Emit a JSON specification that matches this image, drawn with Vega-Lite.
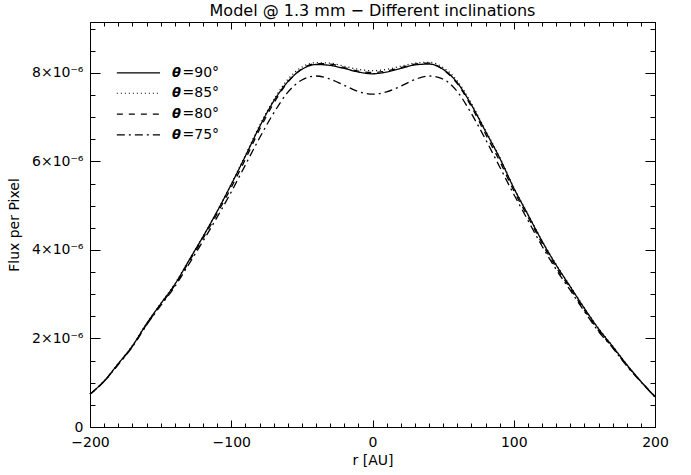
{
  "$schema": "https://vega.github.io/schema/vega-lite/v6.json",
  "width": 565,
  "height": 405,
  "autosize": "none",
  "padding": {"left": 90, "top": 22, "right": 36, "bottom": 48},
  "background": "white",
  "title": {"text": "Model @ 1.3 mm − Different inclinations", "font": "DejaVu Sans", "fontSize": 16, "fontWeight": "normal", "color": "black", "offset": 3, "anchor": "middle", "frame": "group"},
  "config": {
    "view": {"stroke": "black", "strokeWidth": 1},
    "axis": {"grid": false, "domain": false, "tickColor": "black", "labelColor": "black", "titleColor": "black", "labelFont": "DejaVu Sans", "titleFont": "DejaVu Sans", "labelFontSize": 14, "titleFontSize": 14, "titleFontWeight": "normal", "tickWidth": 1}
  },
  "datasets": {
    "curves": [
      {"r": -200, "90": 0.74, "85": 0.74, "80": 0.74, "75": 0.74},
      {"r": -190, "90": 1.04, "85": 1.04, "80": 1.03, "75": 1.03},
      {"r": -180, "90": 1.43, "85": 1.43, "80": 1.42, "75": 1.41},
      {"r": -170, "90": 1.83, "85": 1.84, "80": 1.82, "75": 1.81},
      {"r": -160, "90": 2.33, "85": 2.34, "80": 2.31, "75": 2.30},
      {"r": -150, "90": 2.78, "85": 2.79, "80": 2.76, "75": 2.74},
      {"r": -140, "90": 3.22, "85": 3.23, "80": 3.20, "75": 3.17},
      {"r": -130, "90": 3.76, "85": 3.77, "80": 3.73, "75": 3.68},
      {"r": -120, "90": 4.30, "85": 4.31, "80": 4.26, "75": 4.20},
      {"r": -110, "90": 4.87, "85": 4.88, "80": 4.82, "75": 4.74},
      {"r": -100, "90": 5.48, "85": 5.49, "80": 5.41, "75": 5.31},
      {"r": -90, "90": 6.12, "85": 6.14, "80": 6.05, "75": 5.92},
      {"r": -80, "90": 6.78, "85": 6.81, "80": 6.72, "75": 6.53},
      {"r": -70, "90": 7.36, "85": 7.39, "80": 7.31, "75": 7.09},
      {"r": -60, "90": 7.80, "85": 7.85, "80": 7.79, "75": 7.56},
      {"r": -50, "90": 8.08, "85": 8.13, "80": 8.09, "75": 7.84},
      {"r": -40, "90": 8.19, "85": 8.23, "80": 8.21, "75": 7.93},
      {"r": -30, "90": 8.17, "85": 8.22, "80": 8.20, "75": 7.86},
      {"r": -20, "90": 8.10, "85": 8.15, "80": 8.12, "75": 7.72},
      {"r": -10, "90": 8.02, "85": 8.08, "80": 8.04, "75": 7.58},
      {"r": 0, "90": 7.98, "85": 8.05, "80": 8.01, "75": 7.52},
      {"r": 10, "90": 8.02, "85": 8.08, "80": 8.04, "75": 7.57},
      {"r": 20, "90": 8.10, "85": 8.15, "80": 8.12, "75": 7.70},
      {"r": 30, "90": 8.18, "85": 8.22, "80": 8.20, "75": 7.85},
      {"r": 40, "90": 8.20, "85": 8.24, "80": 8.22, "75": 7.93},
      {"r": 50, "90": 8.08, "85": 8.12, "80": 8.07, "75": 7.86},
      {"r": 60, "90": 7.78, "85": 7.82, "80": 7.76, "75": 7.58},
      {"r": 70, "90": 7.28, "85": 7.31, "80": 7.24, "75": 7.08},
      {"r": 80, "90": 6.68, "85": 6.70, "80": 6.62, "75": 6.50},
      {"r": 90, "90": 6.08, "85": 6.10, "80": 6.01, "75": 5.88},
      {"r": 100, "90": 5.40, "85": 5.41, "80": 5.34, "75": 5.26},
      {"r": 110, "90": 4.80, "85": 4.81, "80": 4.75, "75": 4.67},
      {"r": 120, "90": 4.20, "85": 4.21, "80": 4.15, "75": 4.09},
      {"r": 130, "90": 3.66, "85": 3.67, "80": 3.61, "75": 3.56},
      {"r": 140, "90": 3.17, "85": 3.18, "80": 3.13, "75": 3.09},
      {"r": 150, "90": 2.68, "85": 2.69, "80": 2.64, "75": 2.61},
      {"r": 160, "90": 2.22, "85": 2.23, "80": 2.18, "75": 2.16},
      {"r": 170, "90": 1.82, "85": 1.83, "80": 1.80, "75": 1.79},
      {"r": 180, "90": 1.41, "85": 1.41, "80": 1.39, "75": 1.38},
      {"r": 190, "90": 1.03, "85": 1.03, "80": 1.03, "75": 1.02},
      {"r": 200, "90": 0.68, "85": 0.68, "80": 0.69, "75": 0.68}
    ],
    "legend": [
      {"theta": "90", "x1": -181, "x2": -150.4, "tx": -142, "lx": -134.5, "y": 8.0, "sym": "θ", "lab": "=90°"},
      {"theta": "85", "x1": -181, "x2": -150.4, "tx": -142, "lx": -134.5, "y": 7.54, "sym": "θ", "lab": "=85°"},
      {"theta": "80", "x1": -181, "x2": -150.4, "tx": -142, "lx": -134.5, "y": 7.07, "sym": "θ", "lab": "=80°"},
      {"theta": "75", "x1": -181, "x2": -150.4, "tx": -142, "lx": -134.5, "y": 6.6, "sym": "θ", "lab": "=75°"}
    ]
  },
  "layer": [
    {
      "data": {"name": "curves"},
      "transform": [{"fold": ["90", "85", "80", "75"], "as": ["theta", "flux"]}],
      "mark": {"type": "line", "interpolate": "monotone", "color": "black", "strokeWidth": 1.3},
      "encoding": {
        "x": {"field": "r", "type": "quantitative", "scale": {"domain": [-200, 200], "nice": false, "zero": false},
              "axis": {"orient": "bottom", "values": [-200, -100, 0, 100, 200], "tickSize": -7, "labelPadding": 15, "title": "r [AU]", "titlePadding": 4, "labelFlush": false}},
        "y": {"field": "flux", "type": "quantitative", "scale": {"domain": [0, 9.15], "nice": false, "zero": false},
              "axis": {"orient": "left", "values": [0, 2, 4, 6, 8], "tickSize": -10, "labelPadding": 17, "title": "Flux per Pixel", "titlePadding": 10,
                       "labelExpr": "datum.value == 0 ? '0' : datum.value + '×10⁻⁶'", "labelFlush": false}},
        "strokeDash": {"field": "theta", "type": "nominal", "legend": null,
                       "scale": {"domain": ["90", "85", "80", "75"], "range": [[1, 0], [1, 3], [6, 6], [8, 4, 2, 4]]}},
        "detail": {"field": "theta"}
      }
    },
    {
      "data": {"name": "legend"},
      "mark": {"type": "rule", "color": "black", "strokeWidth": 1.2},
      "encoding": {
        "x": {"field": "x1", "type": "quantitative", "scale": {"domain": [-200, 200], "nice": false, "zero": false},
              "axis": {"orient": "bottom", "values": [-200, -190, -180, -170, -160, -150, -140, -130, -120, -110, -100, -90, -80, -70, -60, -50, -40, -30, -20, -10, 0, 10, 20, 30, 40, 50, 60, 70, 80, 90, 100, 110, 120, 130, 140, 150, 160, 170, 180, 190, 200], "tickSize": -4, "labels": false, "title": null}},
        "x2": {"field": "x2"},
        "y": {"field": "y", "type": "quantitative", "scale": {"domain": [0, 9.15], "nice": false, "zero": false},
              "axis": {"orient": "left", "values": [0, 0.5, 1, 1.5, 2, 2.5, 3, 3.5, 4, 4.5, 5, 5.5, 6, 6.5, 7, 7.5, 8, 8.5, 9], "tickSize": -5, "labels": false, "title": null}},
        "strokeDash": {"field": "theta", "type": "nominal", "legend": null}
      }
    },
    {
      "data": {"name": "legend"},
      "mark": {"type": "text", "align": "left", "baseline": "middle", "font": "DejaVu Sans", "fontSize": 13, "fontStyle": "italic", "fontWeight": "bold", "color": "black"},
      "encoding": {
        "x": {"field": "tx", "type": "quantitative", "scale": {"domain": [-200, 200], "nice": false, "zero": false},
              "axis": {"orient": "top", "values": [-200, -100, 0, 100, 200], "tickSize": -7, "labels": false, "title": null}},
        "y": {"field": "y", "type": "quantitative", "scale": {"domain": [0, 9.15], "nice": false, "zero": false},
              "axis": {"orient": "right", "values": [0, 2, 4, 6, 8], "tickSize": -10, "labels": false, "title": null}},
        "text": {"field": "sym"}
      }
    },
    {
      "data": {"name": "legend"},
      "mark": {"type": "text", "align": "left", "baseline": "middle", "font": "DejaVu Sans", "fontSize": 14, "color": "black"},
      "encoding": {
        "x": {"field": "lx", "type": "quantitative", "scale": {"domain": [-200, 200], "nice": false, "zero": false},
              "axis": {"orient": "top", "values": [-200, -190, -180, -170, -160, -150, -140, -130, -120, -110, -100, -90, -80, -70, -60, -50, -40, -30, -20, -10, 0, 10, 20, 30, 40, 50, 60, 70, 80, 90, 100, 110, 120, 130, 140, 150, 160, 170, 180, 190, 200], "tickSize": -4, "labels": false, "title": null}},
        "y": {"field": "y", "type": "quantitative", "scale": {"domain": [0, 9.15], "nice": false, "zero": false},
              "axis": {"orient": "right", "values": [0, 0.5, 1, 1.5, 2, 2.5, 3, 3.5, 4, 4.5, 5, 5.5, 6, 6.5, 7, 7.5, 8, 8.5, 9], "tickSize": -5, "labels": false, "title": null}},
        "text": {"field": "lab"}
      }
    }
  ],
  "resolve": {"axis": {"x": "independent", "y": "independent"}}
}
